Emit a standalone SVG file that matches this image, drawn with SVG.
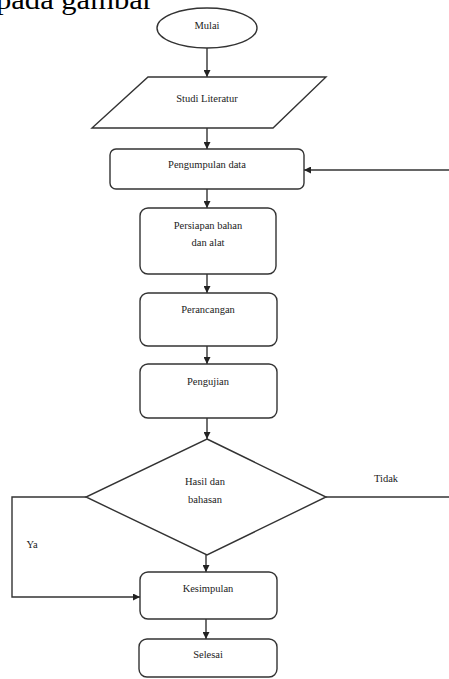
<svg xmlns="http://www.w3.org/2000/svg" width="449" height="679" viewBox="0 0 449 679">
<defs>
<marker id="ah" viewBox="0 0 10 10" refX="10" refY="5" markerWidth="7" markerHeight="7" markerUnits="userSpaceOnUse" orient="auto">
<path d="M0,0 L10,5 L0,10 z" fill="#222"/>
</marker>
<style>
.s{fill:#fff;stroke:#333;stroke-width:1.4}
.c{fill:none;stroke:#333;stroke-width:1.4}
.a{marker-end:url(#ah)}
.t{font-family:"Liberation Serif",serif;font-size:10.5px;fill:#222;text-anchor:middle}
.h{font-family:"Liberation Serif",serif;font-size:27px;fill:#000}
</style>
</defs>
<rect width="449" height="679" fill="#fff"/>
<text class="h" x="-4" y="9" textLength="157" lengthAdjust="spacingAndGlyphs">pada gambar</text>
<g id="connectors">
<line class="c a" x1="207" y1="48" x2="207" y2="77"/>
<line class="c a" x1="207" y1="128" x2="207" y2="149"/>
<line class="c a" x1="207" y1="189" x2="207" y2="208"/>
<line class="c a" x1="207" y1="274" x2="207" y2="293"/>
<line class="c a" x1="207" y1="346" x2="207" y2="364"/>
<line class="c a" x1="207" y1="418" x2="207" y2="439"/>
<line class="c a" x1="206" y1="555" x2="206" y2="572"/>
<line class="c a" x1="206" y1="619" x2="206" y2="639"/>
<polyline class="c a" points="86,497 12,497 12,597 140,597"/>
<polyline class="c" points="326,497 449,497"/>
<line class="c a" x1="449" y1="170" x2="304" y2="170"/>
<text class="t" x="386" y="482">Tidak</text>
<text class="t" x="32" y="548">Ya</text>
</g>
<g id="mulai">
<ellipse class="s" cx="207" cy="28" rx="50" ry="20"/>
<text class="t" x="207" y="29">Mulai</text>
</g>
<g id="studi">
<polygon class="s" points="148,77 326,77 273,128 92,128"/>
<text class="t" x="207" y="102">Studi  Literatur</text>
</g>
<g id="pengumpulan">
<rect class="s" x="110" y="149" width="194" height="40" rx="6"/>
<text class="t" x="207" y="168">Pengumpulan  data</text>
</g>
<g id="persiapan">
<rect class="s" x="140" y="208" width="136" height="66" rx="8"/>
<text class="t" x="208" y="229">Persiapan bahan</text>
<text class="t" x="208" y="246">dan alat</text>
</g>
<g id="perancangan">
<rect class="s" x="140" y="293" width="137" height="53" rx="8"/>
<text class="t" x="208" y="313">Perancangan</text>
</g>
<g id="pengujian">
<rect class="s" x="140" y="364" width="137" height="54" rx="8"/>
<text class="t" x="208" y="385">Pengujian</text>
</g>
<g id="hasil">
<polygon class="s" points="207,439 326,497 207,555 86,497"/>
<text class="t" x="205" y="485">Hasil dan</text>
<text class="t" x="205" y="503">bahasan</text>
</g>
<g id="kesimpulan">
<rect class="s" x="140" y="572" width="137" height="47" rx="8"/>
<text class="t" x="208" y="592">Kesimpulan</text>
</g>
<g id="selesai">
<rect class="s" x="139" y="639" width="138" height="38" rx="8"/>
<text class="t" x="208" y="658">Selesai</text>
</g>
</svg>
